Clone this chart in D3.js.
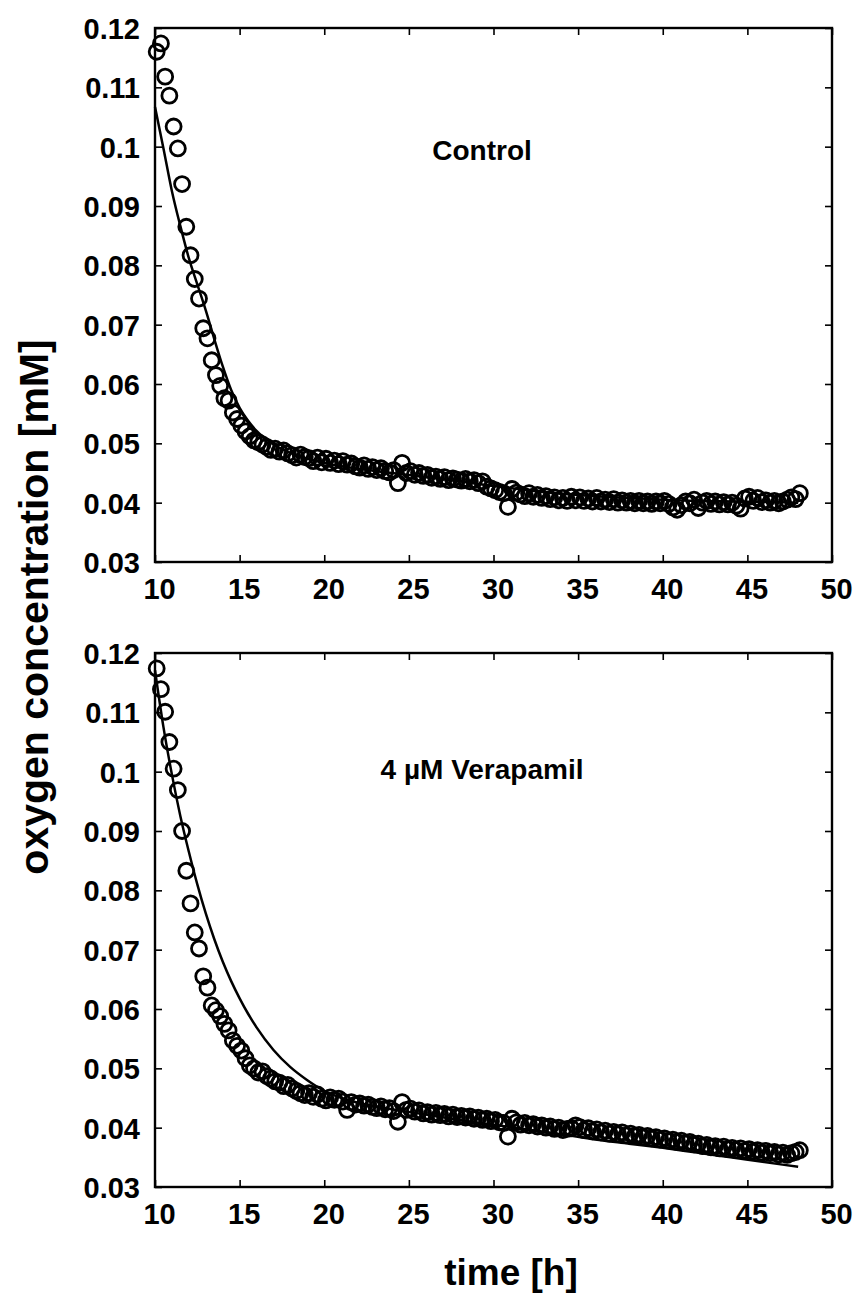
<!DOCTYPE html>
<html>
<head>
<meta charset="utf-8">
<script src="https://cdn.jsdelivr.net/npm/d3@7"></script>
<style>
  body { margin: 0; background: #fff; }
  svg text { font-family: "Liberation Sans", Arial, sans-serif; font-weight: bold; fill: #000; }
</style>
</head>
<body>
<div class="chart-container"></div>
<script>
// sampling times [h], shared by both measurements
const times = [
  10.10, 10.35, 10.60, 10.85, 11.10, 11.35, 11.60, 11.85, 12.10, 12.35, 12.60, 12.85, 13.10, 13.35, 13.60, 13.85,
  14.10, 14.35, 14.60, 14.85, 15.10, 15.35, 15.60, 15.85, 16.10, 16.35, 16.60, 16.85, 17.10, 17.35, 17.60, 17.85,
  18.10, 18.35, 18.60, 18.85, 19.10, 19.35, 19.60, 19.85, 20.10, 20.35, 20.60, 20.85, 21.10, 21.35, 21.60, 21.85,
  22.10, 22.35, 22.60, 22.85, 23.10, 23.35, 23.60, 23.85, 24.10, 24.35, 24.60, 24.85, 25.10, 25.35, 25.60, 25.85,
  26.10, 26.35, 26.60, 26.85, 27.10, 27.35, 27.60, 27.85, 28.10, 28.35, 28.60, 28.85, 29.10, 29.35, 29.60, 29.85,
  30.10, 30.35, 30.60, 30.85, 31.10, 31.35, 31.60, 31.85, 32.10, 32.35, 32.60, 32.85, 33.10, 33.35, 33.60, 33.85,
  34.10, 34.35, 34.60, 34.85, 35.10, 35.35, 35.60, 35.85, 36.10, 36.35, 36.60, 36.85, 37.10, 37.35, 37.60, 37.85,
  38.10, 38.35, 38.60, 38.85, 39.10, 39.35, 39.60, 39.85, 40.10, 40.35, 40.60, 40.85, 41.10, 41.35, 41.60, 41.85,
  42.10, 42.35, 42.60, 42.85, 43.10, 43.35, 43.60, 43.85, 44.10, 44.35, 44.60, 44.85, 45.10, 45.35, 45.60, 45.85,
  46.10, 46.35, 46.60, 46.85, 47.10, 47.35, 47.60, 47.85, 48.10
];

// measured oxygen concentration [mM], control
const controlData = [
  0.1160, 0.1174, 0.1118, 0.1086, 0.1034, 0.0997, 0.0937, 0.0865, 0.0817, 0.0777, 0.0744, 0.0694, 0.0677, 0.0640, 0.0615, 0.0597,
  0.0576, 0.0572, 0.0552, 0.0541, 0.0530, 0.0520, 0.0512, 0.0505, 0.0502, 0.0498, 0.0494, 0.0489, 0.0491, 0.0486, 0.0488, 0.0483,
  0.0480, 0.0476, 0.0481, 0.0477, 0.0475, 0.0470, 0.0476, 0.0468, 0.0474, 0.0467, 0.0471, 0.0465, 0.0470, 0.0464, 0.0466, 0.0461,
  0.0459, 0.0463, 0.0457, 0.0460, 0.0455, 0.0458, 0.0453, 0.0451, 0.0455, 0.0433, 0.0467, 0.0450, 0.0453, 0.0447, 0.0450, 0.0445,
  0.0447, 0.0442, 0.0444, 0.0440, 0.0443, 0.0438, 0.0441, 0.0439, 0.0437, 0.0440, 0.0436, 0.0438, 0.0433, 0.0436, 0.0427, 0.0424,
  0.0421, 0.0418, 0.0416, 0.0393, 0.0423, 0.0417, 0.0414, 0.0411, 0.0416, 0.0410, 0.0413, 0.0408, 0.0411, 0.0406, 0.0409, 0.0404,
  0.0408, 0.0403, 0.0410, 0.0404, 0.0409, 0.0403, 0.0407, 0.0402, 0.0408, 0.0402, 0.0405, 0.0401, 0.0406, 0.0400, 0.0404, 0.0400,
  0.0403, 0.0399, 0.0403, 0.0399, 0.0402, 0.0398, 0.0402, 0.0399, 0.0403, 0.0398, 0.0392, 0.0388, 0.0396, 0.0402, 0.0399, 0.0405,
  0.0391, 0.0400, 0.0403, 0.0398, 0.0402, 0.0397, 0.0401, 0.0397, 0.0400, 0.0395, 0.0390, 0.0407, 0.0410, 0.0403, 0.0408, 0.0401,
  0.0404, 0.0400, 0.0403, 0.0399, 0.0402, 0.0405, 0.0409, 0.0406, 0.0416
];

// measured oxygen concentration [mM], 4 µM verapamil
const verapamilData = [
  0.1174, 0.1139, 0.1101, 0.1050, 0.1005, 0.0969, 0.0900, 0.0833, 0.0778, 0.0729, 0.0702, 0.0655, 0.0636, 0.0606, 0.0598, 0.0588,
  0.0575, 0.0564, 0.0547, 0.0538, 0.0530, 0.0517, 0.0505, 0.0500, 0.0493, 0.0495, 0.0487, 0.0483, 0.0478, 0.0476, 0.0470, 0.0472,
  0.0466, 0.0462, 0.0458, 0.0455, 0.0458, 0.0452, 0.0456, 0.0449, 0.0446, 0.0451, 0.0447, 0.0449, 0.0444, 0.0430, 0.0443, 0.0439,
  0.0441, 0.0437, 0.0439, 0.0435, 0.0433, 0.0436, 0.0431, 0.0433, 0.0428, 0.0410, 0.0443, 0.0430, 0.0432, 0.0427, 0.0429, 0.0424,
  0.0426, 0.0422, 0.0425, 0.0421, 0.0423, 0.0419, 0.0422, 0.0418, 0.0420, 0.0417, 0.0419, 0.0415, 0.0417, 0.0413, 0.0415, 0.0411,
  0.0413, 0.0409, 0.0408, 0.0385, 0.0415, 0.0409, 0.0405, 0.0408, 0.0404, 0.0406, 0.0402, 0.0404, 0.0400, 0.0402, 0.0398, 0.0400,
  0.0396, 0.0398, 0.0399, 0.0404, 0.0401, 0.0396, 0.0399, 0.0394, 0.0397, 0.0392, 0.0395, 0.0390, 0.0393, 0.0389, 0.0392, 0.0387,
  0.0390, 0.0386, 0.0388, 0.0384, 0.0386, 0.0382, 0.0384, 0.0380, 0.0382, 0.0378, 0.0380, 0.0376, 0.0378, 0.0374, 0.0376, 0.0372,
  0.0373, 0.0369, 0.0371, 0.0367, 0.0369, 0.0365, 0.0368, 0.0364, 0.0366, 0.0362, 0.0365, 0.0361, 0.0364, 0.0360, 0.0362, 0.0358,
  0.0361, 0.0357, 0.0359, 0.0355, 0.0358, 0.0354, 0.0357, 0.0359, 0.0362
];

// model fit curves
const fitTimes = [10, 10.5, 11, 11.5, 12, 12.5, 13, 13.5, 14, 14.5, 15, 15.5, 16, 17, 18, 19, 20, 22, 24, 26, 28, 30, 32, 34, 36, 38, 40, 42, 44, 46, 48];
const controlFit = [0.1067, 0.0997, 0.0925, 0.0866, 0.0812, 0.0768, 0.0724, 0.0676, 0.0630, 0.0590, 0.0560, 0.0538, 0.0521, 0.0498, 0.0484, 0.0474, 0.0467,
  0.0457, 0.0450, 0.0443, 0.0436, 0.0428, 0.0421, 0.0415, 0.0411, 0.0408, 0.0405, 0.0403, 0.0402, 0.0401, 0.0400];
const verapamilFit = [0.1171, 0.1075, 0.0995, 0.0925, 0.0865, 0.0810, 0.0761, 0.0718, 0.0680, 0.0647, 0.0618, 0.0592, 0.0569, 0.0531, 0.0502, 0.0480, 0.0462,
  0.0442, 0.0431, 0.0422, 0.0413, 0.0405, 0.0397, 0.0389, 0.0380, 0.0373, 0.0366, 0.0358, 0.0350, 0.0342, 0.0334];

const xTicks = [10, 15, 20, 25, 30, 35, 40, 45, 50];
const yTicks = [0.03, 0.04, 0.05, 0.06, 0.07, 0.08, 0.09, 0.1, 0.11, 0.12];
const yTickLabels = ["0.03", "0.04", "0.05", "0.06", "0.07", "0.08", "0.09", "0.1", "0.11", "0.12"];

const panels = [
    {label: "Control", data: controlData, fit: controlFit, top: 28, labelY: 160},
    {label: "4 µM Verapamil", data: verapamilData, fit: verapamilFit, top: 653, labelY: 779}
];

const width = 866, height = 1295;
const plotLeft = 155, plotRight = 832, plotHeight = 534;

const svg = d3.select(".chart-container").append("svg")
    .attr("width", width)
    .attr("height", height);

const x = d3.scaleLinear().domain([10, 50]).range([plotLeft, plotRight]);

panels.forEach(p => {
    const y = d3.scaleLinear().domain([0.03, 0.12]).range([p.top + plotHeight, p.top]);
    const g = svg.append("g");

    // inward ticks on all four sides
    const bottom = g.append("g")
        .attr("transform", `translate(0, ${p.top + plotHeight})`)
        .call(d3.axisBottom(x).tickValues(xTicks).tickSizeInner(-7).tickSizeOuter(0).tickPadding(16).tickFormat(d3.format("d")));
    const top = g.append("g")
        .attr("transform", `translate(0, ${p.top})`)
        .call(d3.axisTop(x).tickValues(xTicks).tickSizeInner(-7).tickSizeOuter(0).tickFormat(""));
    const left = g.append("g")
        .attr("transform", `translate(${plotLeft}, 0)`)
        .call(d3.axisLeft(y).tickValues(yTicks).tickSizeInner(-7).tickSizeOuter(0).tickPadding(15)
            .tickFormat((d, i) => yTickLabels[i]));
    const right = g.append("g")
        .attr("transform", `translate(${plotRight}, 0)`)
        .call(d3.axisRight(y).tickValues(yTicks).tickSizeInner(-7).tickSizeOuter(0).tickFormat(""));

    [bottom, top, left, right].forEach(a => {
        a.select(".domain").remove();
        a.selectAll(".tick line").attr("stroke", "#000").attr("stroke-width", 1.6);
        a.selectAll("text").style("font-size", "29px").attr("fill", "#000");
    });
    bottom.selectAll("text").attr("dx", 4);
    left.selectAll("text").attr("dy", "0.36em");

    g.append("rect")
        .attr("x", plotLeft)
        .attr("y", p.top)
        .attr("width", plotRight - plotLeft)
        .attr("height", plotHeight)
        .attr("fill", "none")
        .attr("stroke", "#000")
        .attr("stroke-width", 2.4);

    const line = d3.line()
        .x((d, i) => x(fitTimes[i]))
        .y(d => y(d))
        .curve(d3.curveMonotoneX);

    g.append("path")
        .datum(p.fit)
        .attr("d", line)
        .attr("fill", "none")
        .attr("stroke", "#000")
        .attr("stroke-width", 2.5);

    g.selectAll(".pt")
        .data(p.data)
        .enter().append("circle")
        .attr("class", "pt")
        .attr("cx", (d, i) => x(times[i]))
        .attr("cy", d => y(d))
        .attr("r", 7.5)
        .attr("fill", "none")
        .attr("stroke", "#000")
        .attr("stroke-width", 2.8);

    g.append("text")
        .attr("x", 482)
        .attr("y", p.labelY)
        .attr("text-anchor", "middle")
        .style("font-size", "28px")
        .text(p.label);
});

svg.append("text")
    .attr("transform", "translate(48, 607) rotate(-90)")
    .attr("text-anchor", "middle")
    .style("font-size", "41px")
    .text("oxygen concentration [mM]");

svg.append("text")
    .attr("x", 511)
    .attr("y", 1285)
    .attr("text-anchor", "middle")
    .style("font-size", "37px")
    .text("time [h]");
</script>
</body>
</html>
